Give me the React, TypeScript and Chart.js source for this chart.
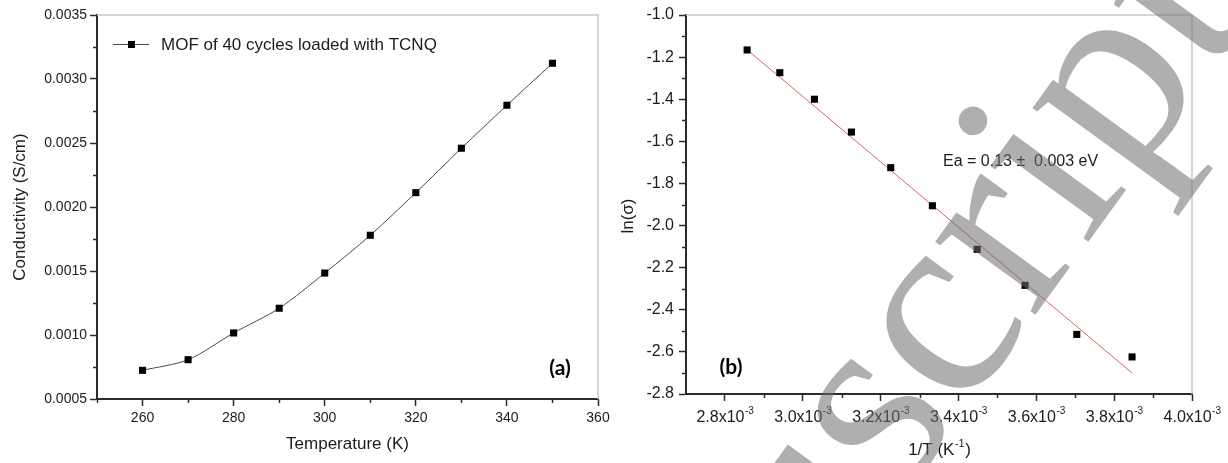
import React, { useEffect, useRef } from 'react';
import { Chart, registerables } from 'chart.js';

Chart.register(...registerables);

// ---------- data ----------
const TEMPERATURES = [260, 270, 280, 290, 300, 310, 320, 330, 340, 350];
const CONDUCTIVITY = [0.000724, 0.000807, 0.001016, 0.001209, 0.001484, 0.001779, 0.002112, 0.002459, 0.002795, 0.003123];

const INV_T = [2.857e-3, 2.941e-3, 3.03e-3, 3.125e-3, 3.226e-3, 3.333e-3, 3.448e-3, 3.571e-3, 3.704e-3, 3.846e-3];
const LN_SIGMA = [-1.166, -1.274, -1.4, -1.556, -1.725, -1.906, -2.113, -2.284, -2.517, -2.624];

const FIT_X = [2.857e-3, 3.846e-3];
const FIT_Y = [-1.165, -2.7];

const TEMP_TICKS = [260, 280, 300, 320, 340, 360];
const COND_TICKS = [0.0005, 0.001, 0.0015, 0.002, 0.0025, 0.003, 0.0035];
const INV_T_TICKS = [2.8e-3, 3.0e-3, 3.2e-3, 3.4e-3, 3.6e-3, 3.8e-3, 4.0e-3];
const INV_T_TICK_LABELS = ['2.8', '3.0', '3.2', '3.4', '3.6', '3.8', '4.0'];
const LN_TICKS = [-2.8, -2.6, -2.4, -2.2, -2.0, -1.8, -1.6, -1.4, -1.2, -1.0];

const SERIES_LABEL = 'MOF of 40 cycles loaded with TCNQ';
const EA_LABEL = 'Ea = 0.13 \u00b1  0.003 eV';
const LEFT_X_TITLE = 'Temperature (K)';
const LEFT_Y_TITLE = 'Conductivity (S/cm)';
const RIGHT_Y_TITLE = 'ln(\u03c3)';
const PANEL_A = '(a)';
const PANEL_B = '(b)';
const WATERMARK_HEAD = 'Manu';
const WATERMARK_TAIL = 'script';

const FONT = "'Liberation Sans', Arial, Helvetica, sans-serif";
const AXIS_COLOR = '#2b2b2b';
const TEXT_COLOR = '#1c1c1c';

function midpoints(ticks: number[]) {
  const r: number[] = [];
  for (let i = 0; i < ticks.length - 1; i++) r.push((ticks[i] + ticks[i + 1]) / 2);
  return r;
}

function decorPlugin(xMinor: number[], yMinor: number[], extra: (chart: any) => void) {
  return {
    id: 'decor',
    beforeDatasetsDraw(chart: any) {
      const { ctx, chartArea: a } = chart;
      ctx.save();
      ctx.strokeStyle = '#c8c8c8';
      ctx.lineWidth = 1.5;
      ctx.beginPath();
      ctx.moveTo(a.left, a.top);
      ctx.lineTo(a.right, a.top);
      ctx.lineTo(a.right, a.bottom);
      ctx.stroke();
      ctx.restore();
    },
    afterDraw(chart: any) {
      const { ctx, chartArea: a } = chart;
      const xs = chart.scales.x;
      const ys = chart.scales.y;
      ctx.save();
      ctx.strokeStyle = AXIS_COLOR;
      ctx.lineWidth = 1.5;
      ctx.beginPath();
      xMinor.forEach((v) => {
        const px = Math.round(xs.getPixelForValue(v)) + 0.5;
        ctx.moveTo(px, a.bottom);
        ctx.lineTo(px, a.bottom + 4);
      });
      yMinor.forEach((v) => {
        const py = Math.round(ys.getPixelForValue(v)) + 0.5;
        ctx.moveTo(a.left, py);
        ctx.lineTo(a.left - 4, py);
      });
      ctx.stroke();
      ctx.restore();
      ctx.save();
      extra(chart);
      ctx.restore();
    },
  };
}

export default function App() {
  const leftRef = useRef<HTMLCanvasElement>(null);
  const rightRef = useRef<HTMLCanvasElement>(null);
  const wmRef = useRef<HTMLCanvasElement>(null);

  useEffect(() => {
    const leftChart = new Chart(leftRef.current as HTMLCanvasElement, {
      type: 'scatter',
      data: {
        datasets: [
          {
            label: SERIES_LABEL,
            data: TEMPERATURES.map((t, i) => ({ x: t, y: CONDUCTIVITY[i] })),
            showLine: true,
            tension: 0.3,
            borderColor: '#4a4a4a',
            borderWidth: 1,
            pointStyle: 'rect',
            pointRadius: 5,
            pointBackgroundColor: '#000',
            pointBorderWidth: 0,
          } as any,
        ],
      },
      options: {
        responsive: false,
        animation: false,
        layout: { padding: { top: 15, right: 16, bottom: 0, left: 0 } },
        plugins: { legend: { display: false }, tooltip: { enabled: false } },
        scales: {
          x: {
            type: 'linear',
            min: 250,
            max: 360,
            afterBuildTicks: (s: any) => {
              s.ticks = TEMP_TICKS.map((v) => ({ value: v }));
            },
            afterFit: (s: any) => {
              s.height = 64;
            },
            ticks: {
              font: { family: FONT, size: 14 },
              color: TEXT_COLOR,
              padding: 4,
              maxRotation: 0,
              callback: (v: any) => String(v),
            },
            grid: { drawOnChartArea: false, tickLength: 7, tickColor: AXIS_COLOR, tickWidth: 1.5 },
            border: { color: AXIS_COLOR, width: 2 },
          },
          y: {
            type: 'linear',
            min: 0.0005,
            max: 0.0035,
            afterBuildTicks: (s: any) => {
              s.ticks = COND_TICKS.map((v) => ({ value: v }));
            },
            afterFit: (s: any) => {
              s.width = 97;
            },
            ticks: {
              font: { family: FONT, size: 14 },
              color: TEXT_COLOR,
              padding: 3,
              callback: (v: any) => Number(v).toFixed(4),
            },
            grid: { drawOnChartArea: false, tickLength: 7, tickColor: AXIS_COLOR, tickWidth: 1.5 },
            border: { color: AXIS_COLOR, width: 2 },
          },
        },
      },
      plugins: [
        decorPlugin(
          [250, ...midpoints(TEMP_TICKS)],
          midpoints(COND_TICKS),
          (chart: any) => {
            const { ctx, chartArea: a } = chart;
            // axis titles
            ctx.fillStyle = TEXT_COLOR;
            ctx.font = `17px ${FONT}`;
            ctx.textAlign = 'center';
            ctx.textBaseline = 'middle';
            ctx.fillText(LEFT_X_TITLE, (a.left + a.right) / 2, 444);
            ctx.save();
            ctx.translate(20, (a.top + a.bottom) / 2);
            ctx.rotate(-Math.PI / 2);
            ctx.fillText(LEFT_Y_TITLE, 0, 0);
            ctx.restore();
            // legend
            const ly = 44.5;
            ctx.strokeStyle = '#4a4a4a';
            ctx.lineWidth = 1;
            ctx.beginPath();
            ctx.moveTo(113, ly);
            ctx.lineTo(149, ly);
            ctx.stroke();
            ctx.fillStyle = '#000';
            ctx.fillRect(128, ly - 3.5, 7, 7);
            ctx.fillStyle = TEXT_COLOR;
            ctx.font = `17px ${FONT}`;
            ctx.textAlign = 'left';
            ctx.fillText(SERIES_LABEL, 161, ly + 1);
            // panel label
            ctx.font = `bold 21px Lato, ${FONT}`;
            ctx.textAlign = 'center';
            ctx.fillStyle = '#000';
            ctx.fillText(PANEL_A, 560, 368);
          }
        ),
      ],
    } as any);

    const rightChart = new Chart(rightRef.current as HTMLCanvasElement, {
      type: 'scatter',
      data: {
        datasets: [
          {
            label: 'data',
            data: INV_T.map((x, i) => ({ x, y: LN_SIGMA[i] })),
            pointStyle: 'rect',
            pointRadius: 5,
            pointBackgroundColor: '#000',
            pointBorderWidth: 0,
            order: 1,
          } as any,
          {
            label: 'fit',
            data: FIT_X.map((x, i) => ({ x, y: FIT_Y[i] })),
            showLine: true,
            borderColor: '#d46464',
            borderWidth: 1,
            pointRadius: 0,
            order: 2,
          } as any,
        ],
      },
      options: {
        responsive: false,
        animation: false,
        layout: { padding: { top: 15, right: 36, bottom: 0, left: 0 } },
        plugins: { legend: { display: false }, tooltip: { enabled: false } },
        scales: {
          x: {
            type: 'linear',
            min: 2.7e-3,
            max: 4.0e-3,
            afterBuildTicks: (s: any) => {
              s.ticks = INV_T_TICKS.map((v) => ({ value: v }));
            },
            afterFit: (s: any) => {
              s.height = 69;
            },
            ticks: { display: false },
            grid: { drawOnChartArea: false, tickLength: 7, tickColor: AXIS_COLOR, tickWidth: 1.5 },
            border: { color: AXIS_COLOR, width: 2 },
          },
          y: {
            type: 'linear',
            min: -2.8,
            max: -1.0,
            afterBuildTicks: (s: any) => {
              s.ticks = LN_TICKS.map((v) => ({ value: v }));
            },
            afterFit: (s: any) => {
              s.width = 72;
            },
            ticks: {
              font: { family: FONT, size: 16 },
              color: TEXT_COLOR,
              padding: 5,
              callback: (v: any) => Number(v).toFixed(1),
            },
            grid: { drawOnChartArea: false, tickLength: 7, tickColor: AXIS_COLOR, tickWidth: 1.5 },
            border: { color: AXIS_COLOR, width: 2 },
          },
        },
      },
      plugins: [
        decorPlugin(
          midpoints(INV_T_TICKS),
          midpoints(LN_TICKS),
          (chart: any) => {
            const { ctx, chartArea: a } = chart;
            const xs = chart.scales.x;
            ctx.fillStyle = TEXT_COLOR;
            ctx.textBaseline = 'alphabetic';
            ctx.textAlign = 'left';
            // x tick labels with superscripts
            INV_T_TICKS.forEach((v, i) => {
              const base = INV_T_TICK_LABELS[i] + 'x10';
              ctx.font = `16px ${FONT}`;
              const wb = ctx.measureText(base).width;
              ctx.font = `10px ${FONT}`;
              const ws = ctx.measureText('-3').width;
              const px = xs.getPixelForValue(v);
              const x0 = px - (wb + ws) / 2;
              ctx.font = `16px ${FONT}`;
              ctx.fillText(base, x0, a.bottom + 28);
              ctx.font = `10px ${FONT}`;
              ctx.fillText('-3', x0 + wb + 0.5, a.bottom + 20);
            });
            // x title with superscript
            {
              const p1 = '1/T (K';
              const sup = '-1';
              const p2 = ')';
              ctx.font = `17px ${FONT}`;
              const w1 = ctx.measureText(p1).width;
              const w2 = ctx.measureText(p2).width;
              ctx.font = `11px ${FONT}`;
              const ws = ctx.measureText(sup).width;
              const cx = (a.left + a.right) / 2;
              const x0 = cx - (w1 + ws + w2) / 2;
              const by = 455;
              ctx.font = `17px ${FONT}`;
              ctx.fillText(p1, x0, by);
              ctx.fillText(p2, x0 + w1 + ws + 1, by);
              ctx.font = `11px ${FONT}`;
              ctx.fillText(sup, x0 + w1 + 0.5, by - 8);
            }
            // y title
            ctx.save();
            ctx.font = `17px ${FONT}`;
            ctx.textAlign = 'center';
            ctx.textBaseline = 'middle';
            ctx.translate(14, 216);
            ctx.rotate(-Math.PI / 2);
            ctx.fillText(RIGHT_Y_TITLE, 0, 0);
            ctx.restore();
            // annotation
            ctx.font = `16px ${FONT}`;
            ctx.textAlign = 'left';
            ctx.textBaseline = 'middle';
            ctx.fillText(EA_LABEL, 329, 162);
            // panel label
            ctx.font = `bold 21px Lato, ${FONT}`;
            ctx.textAlign = 'center';
            ctx.fillStyle = '#000';
            ctx.fillText(PANEL_B, 117, 367);
          }
        ),
      ],
    } as any);

    // watermark overlay
    const wm = wmRef.current as HTMLCanvasElement;
    const wctx = wm.getContext('2d') as CanvasRenderingContext2D;
    wctx.clearRect(0, 0, wm.width, wm.height);
    wctx.save();
    wctx.translate(900, 501);
    wctx.rotate((-54 * Math.PI) / 180);
    wctx.fillStyle = 'rgba(110,110,110,0.55)';
    wctx.font = "270px 'Liberation Serif', 'Times New Roman', serif";
    wctx.textBaseline = 'alphabetic';
    wctx.textAlign = 'right';
    wctx.fillText(WATERMARK_HEAD, 0, 0);
    wctx.textAlign = 'left';
    wctx.fillText(WATERMARK_TAIL, 0, 0);
    wctx.restore();

    return () => {
      leftChart.destroy();
      rightChart.destroy();
    };
  }, []);

  return (
    <div
      style={{
        position: 'absolute',
        left: 0,
        top: 0,
        width: 1228,
        height: 463,
        overflow: 'hidden',
        background: '#fff',
      }}
    >
      <canvas
        ref={leftRef}
        width={614}
        height={463}
        style={{ position: 'absolute', left: 0, top: 0, width: 614, height: 463 }}
      />
      <canvas
        ref={rightRef}
        width={614}
        height={463}
        style={{ position: 'absolute', left: 614, top: 0, width: 614, height: 463 }}
      />
      <canvas
        ref={wmRef}
        width={1228}
        height={463}
        style={{ position: 'absolute', left: 0, top: 0, width: 1228, height: 463, pointerEvents: 'none' }}
      />
    </div>
  );
}
